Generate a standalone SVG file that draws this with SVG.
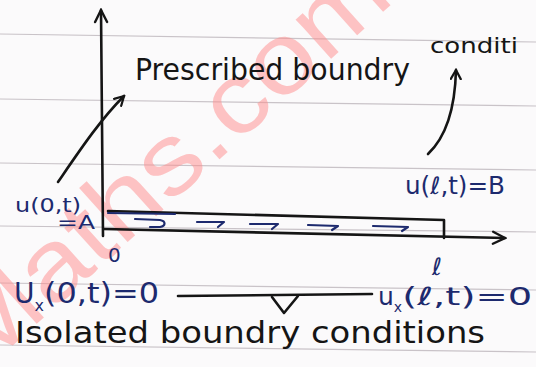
<svg xmlns="http://www.w3.org/2000/svg" width="536" height="367" viewBox="0 0 536 367">
<defs>
<style>
.ink{fill:none;stroke:#151515;stroke-width:2.6;stroke-linecap:round;stroke-linejoin:round}
.blue{fill:none;stroke:#1d2a6e;stroke-width:2.2;stroke-linecap:round;stroke-linejoin:round}
.rule{fill:none;stroke:#c9c3c8;stroke-width:1.2}
.hw{font-family:"DejaVu Sans","Liberation Sans",sans-serif;fill:#151515}
.hb{font-family:"DejaVu Sans","Liberation Sans",sans-serif;fill:#1d2a6e}
.wm{font-family:"Liberation Sans",Arial,sans-serif;font-size:100px;fill:#ff8c8c;opacity:0.5}
</style>
<marker id="open" viewBox="0 0 12 12" refX="10" refY="6" markerWidth="12" markerHeight="12" markerUnits="userSpaceOnUse" orient="auto">
<path d="M1,1 L10,6 L1,11" fill="none" stroke="#151515" stroke-width="2.2" stroke-linecap="round"/>
</marker>
<marker id="axisHead" viewBox="0 0 16 16" refX="14" refY="8" markerWidth="16" markerHeight="16" markerUnits="userSpaceOnUse" orient="auto">
<path d="M2,2 L14,8 L2,14" fill="none" stroke="#151515" stroke-width="2.4" stroke-linecap="round"/>
</marker>
</defs>
<rect width="536" height="367" fill="#fbfafb"/>
<g id="paper-lines">
<path class="rule" d="M0,34 L536,42"/>
<path class="rule" d="M0,99 L536,106"/>
<path class="rule" d="M0,163 L536,170"/>
<path class="rule" d="M0,226 L536,232"/>
<path class="rule" d="M0,283 L536,290"/>
<path class="rule" d="M0,345 L536,352"/>
</g>
<g id="watermark">
<text class="wm" x="-20" y="375" transform="rotate(-42 -20 375)" textLength="560" lengthAdjust="spacingAndGlyphs">Maths.com</text>
</g>
<g id="connectors">
<path class="ink" d="M103,236 L101,10" marker-end="url(#axisHead)"/>
<path class="ink" d="M104,229 L505,238" marker-end="url(#axisHead)"/>
<path class="ink" d="M58,182 C80,150 100,120 124,96" marker-end="url(#open)"/>
<path class="ink" d="M428,154 C445,138 455,110 456,70" marker-end="url(#open)"/>
<path class="ink" d="M178,296 L372,294"/>
<path class="ink" d="M272,297 L284,313 L298,296"/>
</g>
<g id="rod">
<path class="ink" d="M108,211 L444,220 L444,238"/>
<path class="blue" d="M108,213 L175,214"/>
<path class="blue" d="M135,219 L160,220 C166,221 166,226 160,227 L150,227"/>
<path class="blue" d="M197,222 L224,222 L218,227"/>
<path class="blue" d="M250,224 L278,224 L272,229"/>
<path class="blue" d="M308,225 L338,226 L332,230"/>
<path class="blue" d="M373,226 L408,227 L402,231"/>
</g>
<g id="prescribed-label">
<text class="hw" x="135" y="80" font-size="30" textLength="275" lengthAdjust="spacingAndGlyphs">Prescribed boundry</text>
<text class="hw" x="430" y="53" font-size="22" textLength="88" lengthAdjust="spacingAndGlyphs">conditi</text>
</g>
<g id="left-bc">
<text class="hb" x="15" y="212" font-size="19" textLength="66" lengthAdjust="spacingAndGlyphs">u(0,t)</text>
<text class="hb" x="57" y="229" font-size="20" textLength="38" lengthAdjust="spacingAndGlyphs">=A</text>
</g>
<g id="right-bc">
<text class="hb" x="405" y="194" font-size="24" textLength="100" lengthAdjust="spacingAndGlyphs">u(ℓ,t)=B</text>
</g>
<g id="axis-labels">
<text class="hb" x="108" y="262" font-size="20">0</text>
<text class="hb" x="432" y="275" font-size="24" font-style="italic">ℓ</text>
</g>
<g id="isolated-left">
<text class="hb" x="14" y="303" font-size="28">U<tspan font-size="16" dy="8">x</tspan><tspan dy="-8" textLength="115" lengthAdjust="spacingAndGlyphs">(0,t)=0</tspan></text>
</g>
<g id="isolated-right">
<text class="hb" x="378" y="305" font-size="25">u<tspan font-size="14" dy="7">x</tspan><tspan dy="-7" textLength="130" lengthAdjust="spacingAndGlyphs">(ℓ,t)=0</tspan></text>
</g>
<g id="isolated-label">
<text class="hw" x="15" y="343" font-size="30" textLength="470" lengthAdjust="spacingAndGlyphs">Isolated boundry conditions</text>
</g>
</svg>
